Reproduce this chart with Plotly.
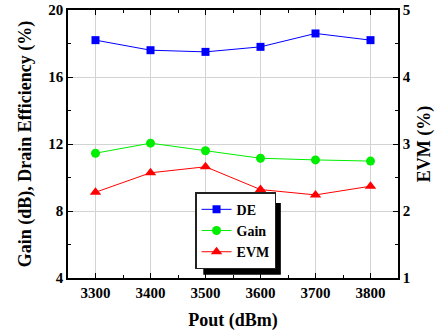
import plotly.graph_objects as go

pout = [3300, 3400, 3500, 3600, 3700, 3800]
de = [18.2, 17.6, 17.5, 17.8, 18.6, 18.2]
gain = [11.45, 12.05, 11.6, 11.15, 11.05, 10.98]
evm = [2.28, 2.57, 2.66, 2.32, 2.24, 2.37]
names = ["DE", "Gain", "EVM"]

FONT = "Liberation Serif, Times New Roman, serif"

fig = go.Figure()
fig.add_trace(go.Scatter(x=pout, y=de, name="<b>%s</b>" % names[0], mode="lines+markers",
                         line=dict(color="#0000ff", width=1),
                         marker=dict(symbol="square", size=8, color="#0000ff")))
fig.add_trace(go.Scatter(x=pout, y=gain, name="<b>%s</b>" % names[1], mode="lines+markers",
                         line=dict(color="#00ee00", width=1),
                         marker=dict(symbol="circle", size=9, color="#00ee00")))
fig.add_trace(go.Scatter(x=pout, y=evm, name="<b>%s</b>" % names[2], mode="lines+markers", yaxis="y2",
                         line=dict(color="#ff0000", width=1),
                         marker=dict(symbol="triangle-up", size=10, color="#ff0000")))

# legend shadow
fig.add_shape(type="rect", xref="paper", yref="paper",
              x0=0.41, x1=0.645, y0=0.012, y1=0.28,
              fillcolor="black", line=dict(width=0), layer="above")

TICKF = dict(family=FONT, size=15, color="black")
TITLEF = dict(family=FONT, size=18, color="black")

fig.update_layout(
    width=440, height=335,
    margin=dict(l=68, r=42, t=10, b=57, autoexpand=False),
    paper_bgcolor="white", plot_bgcolor="white",
    font=dict(family=FONT, size=14, color="black"),
    showlegend=True,
    legend=dict(x=0.385, y=0.32, xanchor="left", yanchor="top",
                bgcolor="white", bordercolor="#222222", borderwidth=1.5,
                font=dict(family=FONT, size=14, color="black"),
                tracegroupgap=0, itemwidth=30),
    xaxis=dict(range=[3250, 3850], dtick=100, tick0=3300, automargin=False,
               showline=True, linecolor="black", linewidth=1.5, mirror="ticks",
               ticks="inside", ticklen=5, tickcolor="black",
               minor=dict(ticks="inside", dtick=50, ticklen=3, tickcolor="black", showgrid=False),
               showgrid=True, gridcolor="#d3d3d3", gridwidth=1, zeroline=False,
               tickfont=TICKF,
               title=dict(text="<b>Pout (dBm)</b>", font=TITLEF, standoff=14),
               tickprefix="<b>", ticksuffix="</b>"),
    yaxis=dict(range=[4, 20], dtick=4, tick0=4, automargin=False,
               showline=True, linecolor="black", linewidth=1.5,
               ticks="inside", ticklen=5, tickcolor="black",
               minor=dict(ticks="inside", dtick=2, ticklen=3, tickcolor="black", showgrid=False),
               showgrid=True, gridcolor="#d3d3d3", gridwidth=1, zeroline=False,
               tickfont=TICKF,
               title=dict(text="<b>Gain (dB), Drain Efficiency (%)</b>", font=TITLEF, standoff=12),
               tickprefix="<b>", ticksuffix="</b>"),
    yaxis2=dict(range=[1, 5], dtick=1, tick0=1, overlaying="y", side="right", automargin=False,
                showline=True, linecolor="black", linewidth=1.5,
                ticks="inside", ticklen=5, tickcolor="black",
                minor=dict(ticks="inside", dtick=0.5, ticklen=3, tickcolor="black", showgrid=False),
                showgrid=False, zeroline=False,
                tickfont=TICKF,
                title=dict(text="<b>EVM (%)</b>", font=TITLEF, standoff=8),
                tickprefix="<b>", ticksuffix="</b>"),
)

fig.write_html("out.html", config={"displayModeBar": False},
               post_script="document.body.style.margin='0';")
